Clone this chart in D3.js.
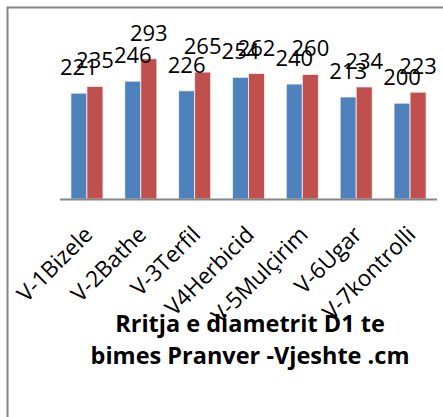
<!DOCTYPE html>
<head>
<meta charset="utf-8">
<script src="https://d3js.org/d3.v7.min.js"></script>
<style>
body {
margin: 0;
padding: 0;
background: white;
overflow: hidden;
}
</style>
</head>
<body>
<svg width=443 height=417></svg>
<script>
var categories = ["V-1Bizele", "V-2Bathe", "V-3Terfil", "V4Herbicid", "V-5Mulçirim", "V-6Ugar", "V-7kontrolli"];
var series = ["Pranver", "Vjeshte"];
var pranver = [221, 246, 226, 254, 240, 213, 200];
var vjeshte = [235, 293, 265, 262, 260, 234, 223];
var titleLines = ["Rritja e diametrit D1 te", "bimes Pranver -Vjeshte .cm"];

var colors = {Pranver: "#4f81bd", Vjeshte: "#c0504d"};

var svg = d3.select("svg");

// chart border (runs off the right and bottom of the picture)
svg.append("rect")
  .attr("x", 7.5).attr("y", 7.5)
  .attr("width", 486).attr("height", 440)
  .attr("fill", "white")
  .attr("stroke", "#868686")
  .attr("stroke-width", 2);

var x0 = d3.scaleBand()
  .domain(categories)
  .range([60, 437]);

var x1 = d3.scaleBand()
  .domain(series)
  .range([0, x0.bandwidth()])
  .paddingOuter(0.68);

var y = d3.scaleLinear()
  .domain([0, 350])
  .range([199, 31.4]);

var rows = categories.map(function(c, i) {
  return {cat: c, values: [{s: "Pranver", v: pranver[i]}, {s: "Vjeshte", v: vjeshte[i]}]};
});

var groups = svg.selectAll(".grp")
  .data(rows)
  .enter().append("g")
  .attr("class", "grp")
  .attr("transform", d => "translate(" + x0(d.cat) + ",0)");

groups.selectAll("rect")
  .data(d => d.values)
  .enter().append("rect")
  .attr("x", d => x1(d.s))
  .attr("width", x1.bandwidth())
  .attr("y", d => y(d.v))
  .attr("height", d => y(0) - y(d.v))
  .attr("fill", d => colors[d.s])
  .attr("stroke", "#ffffff")
  .attr("stroke-opacity", 0.7)
  .attr("stroke-width", 1);

// x axis line
svg.append("line")
  .attr("x1", x0.range()[0]).attr("x2", x0.range()[1])
  .attr("y1", y(0) + 0.5).attr("y2", y(0) + 0.5)
  .attr("stroke", "#868686")
  .attr("stroke-width", 2);

// category labels, rotated
svg.selectAll(".cat")
  .data(categories)
  .enter().append("text")
  .attr("class", "cat")
  .attr("transform", d => "translate(" + (x0(d) + x0.bandwidth() / 2 + 7) + ",236) rotate(-45)")
  .attr("text-anchor", "end")
  .style("font-family", "'Open Sans', sans-serif")
  .style("font-size", "22.5px")
  .attr("fill", "#000")
  .text(d => d);

// title
svg.selectAll(".title")
  .data(titleLines)
  .enter().append("text")
  .attr("class", "title")
  .attr("x", 250)
  .attr("y", (d, i) => 332 + i * 32)
  .attr("text-anchor", "middle")
  .style("font-family", "'Open Sans', sans-serif")
  .style("font-weight", "bold")
  .style("font-size", "23.5px")
  .attr("fill", "#000")
  .text(d => d);

// data labels
groups.selectAll(".lbl")
  .data(d => d.values)
  .enter().append("text")
  .attr("class", "lbl")
  .attr("x", d => x1(d.s) + x1.bandwidth() / 2)
  .attr("y", d => y(d.v) - 18)
  .attr("text-anchor", "middle")
  .style("font-family", "'Open Sans', sans-serif")
  .style("font-size", "22px")
  .attr("fill", "#000")
  .text(d => d.v);
</script>
</body>
